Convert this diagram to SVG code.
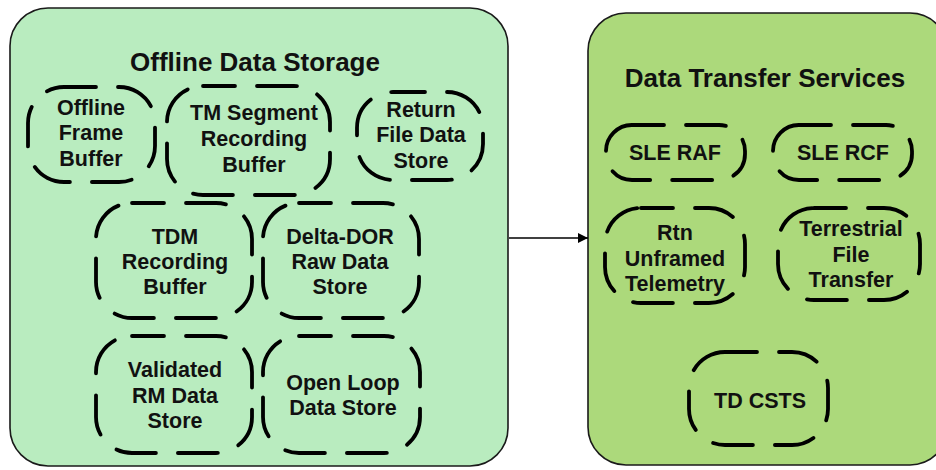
<svg xmlns="http://www.w3.org/2000/svg" width="936" height="470" viewBox="0 0 936 470">
<defs>
<style>
.cont{stroke:#1a1a1a;stroke-width:1.6}
.node{fill:none;stroke:#000;stroke-width:3.8;stroke-dasharray:40 22;stroke-dashoffset:8;stroke-linecap:round}
.title{font-family:"Liberation Sans",Arial,sans-serif;font-weight:bold;font-size:26px;fill:#111;text-anchor:middle}
.lbl{font-family:"Liberation Sans",Arial,sans-serif;font-weight:bold;font-size:21.5px;fill:#111;text-anchor:middle}
</style>
<marker id="arr" viewBox="0 0 10 10" refX="10" refY="5" markerWidth="10" markerHeight="10" markerUnits="userSpaceOnUse" orient="auto">
<path d="M0,0 L10,5 L0,10 z" fill="#000"/>
</marker>
</defs>
<rect width="936" height="470" fill="#fff"/>
<g id="offline-data-storage">
<rect class="cont" x="10" y="8" width="498" height="458" rx="38" fill="#b9ecbf"/>
<text class="title" x="255" y="71">Offline Data Storage</text>
</g>
<g id="data-transfer-services">
<rect class="cont" x="588" y="13" width="360" height="452" rx="38" fill="#acd97b"/>
<text class="title" x="765" y="87">Data Transfer Services</text>
</g>
<g id="offline-frame-buffer">
<rect class="node" x="28" y="87" width="127" height="95" rx="36"/>
<text class="lbl" x="91" y="115">Offline</text>
<text class="lbl" x="91" y="140">Frame</text>
<text class="lbl" x="91" y="166">Buffer</text>
</g>
<g id="tm-segment-recording-buffer">
<rect class="node" x="167" y="86" width="163" height="109" rx="36"/>
<text class="lbl" x="254" y="120">TM Segment</text>
<text class="lbl" x="254" y="146">Recording</text>
<text class="lbl" x="254" y="172">Buffer</text>
</g>
<g id="return-file-data-store">
<rect class="node" x="357" y="92" width="126" height="88" rx="36"/>
<text class="lbl" x="421" y="117">Return</text>
<text class="lbl" x="421" y="142">File Data</text>
<text class="lbl" x="421" y="168">Store</text>
</g>
<g id="tdm-recording-buffer">
<rect class="node" x="96" y="203" width="156" height="115" rx="36"/>
<text class="lbl" x="175" y="244">TDM</text>
<text class="lbl" x="175" y="269">Recording</text>
<text class="lbl" x="175" y="294">Buffer</text>
</g>
<g id="delta-dor-raw-data-store">
<rect class="node" x="263" y="203" width="156" height="115" rx="36"/>
<text class="lbl" x="340" y="244">Delta-DOR</text>
<text class="lbl" x="340" y="269">Raw Data</text>
<text class="lbl" x="340" y="294">Store</text>
</g>
<g id="validated-rm-data-store">
<rect class="node" x="96" y="336" width="156" height="117" rx="36"/>
<text class="lbl" x="175" y="377">Validated</text>
<text class="lbl" x="175" y="403">RM Data</text>
<text class="lbl" x="175" y="428">Store</text>
</g>
<g id="open-loop-data-store">
<rect class="node" x="263" y="336" width="157" height="117" rx="36"/>
<text class="lbl" x="343" y="390">Open Loop</text>
<text class="lbl" x="343" y="415">Data Store</text>
</g>
<g id="sle-raf">
<rect class="node" x="606" y="125" width="139" height="55" rx="26"/>
<text class="lbl" x="675" y="160">SLE RAF</text>
</g>
<g id="sle-rcf">
<rect class="node" x="773" y="125" width="139" height="55" rx="26"/>
<text class="lbl" x="843" y="160">SLE RCF</text>
</g>
<g id="rtn-unframed-telemetry">
<rect class="node" x="605" y="208" width="140" height="95" rx="36"/>
<text class="lbl" x="675" y="240">Rtn</text>
<text class="lbl" x="675" y="266">Unframed</text>
<text class="lbl" x="675" y="291">Telemetry</text>
</g>
<g id="terrestrial-file-transfer">
<rect class="node" x="778" y="208" width="142" height="92" rx="36"/>
<text class="lbl" x="851" y="236">Terrestrial</text>
<text class="lbl" x="851" y="262">File</text>
<text class="lbl" x="851" y="287">Transfer</text>
</g>
<g id="td-csts">
<rect class="node" x="689" y="352" width="139" height="93" rx="36"/>
<text class="lbl" x="760" y="408">TD CSTS</text>
</g>
<g id="connectors">
<line x1="509" y1="238" x2="588" y2="238" stroke="#000" stroke-width="1.6" marker-end="url(#arr)"/>
</g>
</svg>
